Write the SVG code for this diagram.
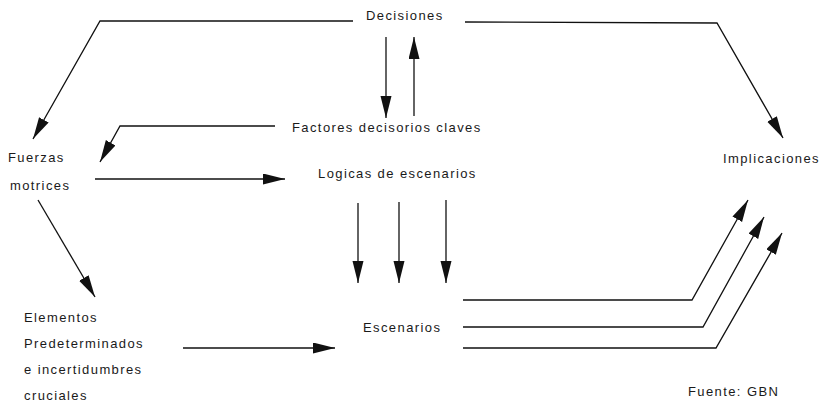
<svg xmlns="http://www.w3.org/2000/svg" width="827" height="408" viewBox="0 0 827 408">
  <defs>
    <style>
      .lbl { font-family: "Liberation Sans", Arial, sans-serif; font-size: 13px; letter-spacing: 1.4px; fill: #1a1a1a; }
      .ln { fill: none; stroke: #111; stroke-width: 1.3; }
    </style>
    <marker id="head" markerUnits="userSpaceOnUse" markerWidth="24" markerHeight="12" refX="22" refY="5.5" orient="auto">
      <path d="M0,0 L22,5.5 L0,11 Z" fill="#111"/>
    </marker>
  </defs>
  <rect width="827" height="408" fill="#fff"/>

  <!-- nodes -->
  <g id="decisiones"><text class="lbl" x="366" y="20">Decisiones</text></g>
  <g id="factores"><text class="lbl" x="292" y="132">Factores decisorios claves</text></g>
  <g id="logicas"><text class="lbl" x="318" y="178">Logicas de escenarios</text></g>
  <g id="fuerzas">
    <text class="lbl" x="8" y="162">Fuerzas</text>
    <text class="lbl" x="10" y="190">motrices</text>
  </g>
  <g id="implicaciones"><text class="lbl" x="723" y="163">Implicaciones</text></g>
  <g id="elementos">
    <text class="lbl" x="24" y="322">Elementos</text>
    <text class="lbl" x="24" y="348">Predeterminados</text>
    <text class="lbl" x="24" y="374">e incertidumbres</text>
    <text class="lbl" x="24" y="400">cruciales</text>
  </g>
  <g id="escenarios"><text class="lbl" x="363" y="332">Escenarios</text></g>
  <g id="fuente"><text class="lbl" x="688" y="396">Fuente: GBN</text></g>

  <!-- connectors -->
  <g id="connectors">
    <polyline class="ln" points="353,21 100,21 33,139" marker-end="url(#head)"/>
    <polyline class="ln" points="465,22 717,23 783,138" marker-end="url(#head)"/>
    <line class="ln" x1="386" y1="37" x2="386" y2="118" marker-end="url(#head)"/>
    <line class="ln" x1="414" y1="116" x2="414" y2="37" marker-end="url(#head)"/>
    <polyline class="ln" points="275,126 120,126 100,162" marker-end="url(#head)"/>
    <line class="ln" x1="95" y1="179" x2="285" y2="179" marker-end="url(#head)"/>
    <line class="ln" x1="38" y1="200" x2="95" y2="297" marker-end="url(#head)"/>
    <line class="ln" x1="358" y1="203" x2="358" y2="283" marker-end="url(#head)"/>
    <line class="ln" x1="399" y1="202" x2="399" y2="283" marker-end="url(#head)"/>
    <line class="ln" x1="446" y1="200" x2="446" y2="283" marker-end="url(#head)"/>
    <line class="ln" x1="183" y1="348" x2="335" y2="348" marker-end="url(#head)"/>
    <polyline class="ln" points="463,300 692,300 748,200" marker-end="url(#head)"/>
    <polyline class="ln" points="463,327 703,327 764,217" marker-end="url(#head)"/>
    <polyline class="ln" points="463,348 716,348 782,233" marker-end="url(#head)"/>
  </g>
</svg>
